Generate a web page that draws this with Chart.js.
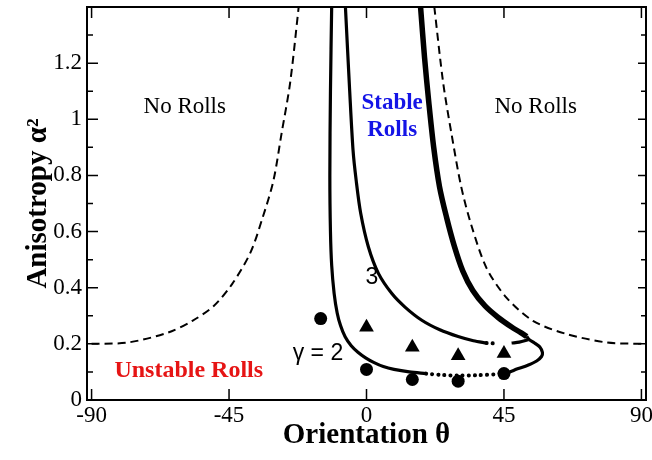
<!DOCTYPE html>
<html>
<head>
<meta charset="utf-8">
<script src="https://cdn.jsdelivr.net/npm/chart.js@4.4.0/dist/chart.umd.min.js"></script>
<style>
  html, body { margin: 0; padding: 0; background: #fff; }
</style>
</head>
<body>
<canvas id="chart" width="652" height="460"></canvas>
<script>
// tick values
const xTicks = [-90, -45, 0, 45, 90];
const yTicks = [0, 0.2, 0.4, 0.6, 0.8, 1, 1.2];
const yMinorTicks = [0.1, 0.3, 0.5, 0.7, 0.9, 1.1, 1.3];

// dashed "no rolls" boundary, left and right branch
const dashLeftTheta = [-90, -78, -65, -57, -50, -44, -38, -34, -30.5, -27.8, -25, -22.2];
const dashLeftAlpha = [0.2, 0.205, 0.24, 0.282, 0.335, 0.413, 0.525, 0.65, 0.78, 0.95, 1.13, 1.4];
const dashRightTheta = [22.2, 25.1, 27.8, 31, 34.4, 39.3, 45.8, 54.5, 65.5, 78.6, 90];
const dashRightAlpha = [1.4, 1.13, 0.95, 0.76, 0.62, 0.47, 0.365, 0.282, 0.235, 0.205, 0.2];

// gamma = 2 curve (solid / dotted / solid)
const g2Theta = [-11.4, -11.8, -12.0, -11.8, -11.4, -10.6, -9.6, -8.5, -7.0, -5.0, -2.8, -0.3, 2.5, 5.5, 9, 14, 19.5];
const g2Alpha = [1.4, 1.1, 0.8, 0.6, 0.48, 0.38, 0.31, 0.265, 0.225, 0.193, 0.17, 0.15, 0.133, 0.119, 0.109, 0.1, 0.094];
const g2DotTheta = [19.5, 25, 30, 36, 43];
const g2DotAlpha = [0.094, 0.089, 0.087, 0.088, 0.092];
const g2EndTheta = [43, 46, 49.2, 53, 55.7, 57.3, 57.6, 56.8, 55, 53.3, 52.5];
const g2EndAlpha = [0.092, 0.097, 0.11, 0.125, 0.139, 0.155, 0.169, 0.188, 0.203, 0.215, 0.226];

// gamma = 3 curve
const g3Theta = [-6.9, -5.5, -4.4, -3.4, -1.9, 0.6, 3.9, 8.3, 12.6, 18.1, 24, 30, 35, 39.3];
const g3Alpha = [1.4, 1.1, 0.889, 0.784, 0.665, 0.546, 0.451, 0.379, 0.331, 0.284, 0.25, 0.226, 0.211, 0.203];
const g3DotTheta = [39.3, 41, 42.6];
const g3DotAlpha = [0.203, 0.202, 0.201];
const g3EndTheta = [47.5, 50, 53];
const g3EndAlpha = [0.203, 0.206, 0.215];

// heavy right branch
const heavyTheta = [17.7, 19.0, 20.4, 22.0, 23.9, 26.2, 28.7, 31.5, 34.8, 38.8, 43.1, 47.5, 50.5, 52.5];
const heavyAlpha = [1.4, 1.22, 1.06, 0.9, 0.76, 0.651, 0.55, 0.46, 0.39, 0.335, 0.294, 0.26, 0.24, 0.226];

// simulation points
const circleTheta = [-15, 0, 15, 30, 45];
const circleAlpha = [0.29, 0.109, 0.073, 0.067, 0.094];
const triTheta = [0, 15, 30, 45];
const triAlpha = [0.259, 0.188, 0.158, 0.166];

// text inside the plot, in data coordinates
const notes = [
  { text: 'No Rolls', x: -59.5, y: 1.045, style: 'plain' },
  { text: 'No Rolls', x: 55.4, y: 1.045, style: 'plain' },
  { text: 'Stable', x: 8.4, y: 1.057, style: 'stable' },
  { text: 'Rolls', x: 8.4, y: 0.96, style: 'stable' },
  { text: 'Unstable Rolls', x: -58.2, y: 0.105, style: 'unstable' },
  { text: '3', x: 1.8, y: 0.437, style: 'gamma' },
  { text: 'γ = 2', x: -15.9, y: 0.166, style: 'gamma' }
];
const noteStyles = {
  plain: { font: '23px "Liberation Serif"', color: '#000' },
  stable: { font: 'bold 23px "Liberation Serif"', color: '#1414e6' },
  unstable: { font: 'bold 24px "Liberation Serif"', color: '#e61414' },
  gamma: { font: '23px "Liberation Sans"', color: '#000' }
};

const pts = (xs, ys) => xs.map((x, i) => ({ x: x, y: ys[i] }));

function curve(xs, ys, width, dash, cap) {
  return {
    data: pts(xs, ys),
    showLine: true,
    borderColor: '#000',
    borderWidth: width,
    borderDash: dash || [],
    borderCapStyle: cap || 'butt',
    pointRadius: 0,
    tension: 0.3
  };
}

const dotted = [0.1, 6];

const frame = {
  id: 'frame',
  afterDraw(chart) {
    const { ctx, chartArea: a, scales: { x, y } } = chart;
    ctx.save();
    ctx.strokeStyle = '#000';
    ctx.lineWidth = 2;
    ctx.strokeRect(a.left, a.top, a.right - a.left, a.bottom - a.top);
    ctx.lineWidth = 1.5;
    ctx.beginPath();
    xTicks.forEach(v => {
      const px = x.getPixelForValue(v);
      ctx.moveTo(px, a.bottom); ctx.lineTo(px, a.bottom - 11);
      ctx.moveTo(px, a.top); ctx.lineTo(px, a.top + 11);
    });
    yTicks.forEach(v => {
      const py = y.getPixelForValue(v);
      ctx.moveTo(a.left, py); ctx.lineTo(a.left + 11, py);
      ctx.moveTo(a.right, py); ctx.lineTo(a.right - 8, py);
    });
    yMinorTicks.forEach(v => {
      const py = y.getPixelForValue(v);
      ctx.moveTo(a.left, py); ctx.lineTo(a.left + 6, py);
      ctx.moveTo(a.right, py); ctx.lineTo(a.right - 5, py);
    });
    ctx.stroke();

    ctx.textAlign = 'center';
    ctx.textBaseline = 'middle';
    notes.forEach(n => {
      const s = noteStyles[n.style];
      ctx.font = s.font;
      ctx.fillStyle = s.color;
      ctx.fillText(n.text, x.getPixelForValue(n.x), y.getPixelForValue(n.y));
    });
    ctx.restore();
  }
};

new Chart(document.getElementById('chart'), {
  type: 'scatter',
  data: {
    datasets: [
      curve(dashLeftTheta, dashLeftAlpha, 2, [8, 5]),
      curve(dashRightTheta, dashRightAlpha, 2, [8, 5]),
      curve(g2Theta, g2Alpha, 3.2),
      curve(g2DotTheta, g2DotAlpha, 4, dotted, 'round'),
      curve(g2EndTheta, g2EndAlpha, 3.2),
      curve(g3Theta, g3Alpha, 3.2),
      curve(g3DotTheta, g3DotAlpha, 4, dotted, 'round'),
      curve(g3EndTheta, g3EndAlpha, 3.2),
      curve(heavyTheta, heavyAlpha, 5.5),
      {
        data: pts(circleTheta, circleAlpha),
        pointStyle: 'circle',
        pointRadius: 6.5,
        backgroundColor: '#000',
        borderColor: '#000',
        borderWidth: 0
      },
      {
        data: pts(triTheta, triAlpha),
        pointStyle: 'triangle',
        pointRadius: 8.5,
        backgroundColor: '#000',
        borderColor: '#000',
        borderWidth: 0
      }
    ]
  },
  options: {
    responsive: false,
    animation: false,
    events: [],
    layout: { autoPadding: false, padding: { top: 7, right: 6, left: 0, bottom: 0 } },
    plugins: { legend: { display: false }, tooltip: { enabled: false } },
    scales: {
      x: {
        type: 'linear',
        min: -91.5,
        max: 91.5,
        grid: { display: false, drawTicks: false },
        border: { display: false },
        afterBuildTicks: s => { s.ticks = xTicks.map(v => ({ value: v })); },
        afterFit: s => { s.height = 60; s.paddingLeft = 0; s.paddingRight = 0; },
        ticks: {
          maxRotation: 0,
          autoSkip: false,
          padding: 2,
          color: '#000',
          font: { family: 'Liberation Serif', size: 23 },
          callback: v => String(v)
        },
        title: {
          display: true,
          text: 'Orientation θ',
          color: '#000',
          padding: { top: 0, bottom: 7 },
          font: { family: 'Liberation Serif', size: 29, weight: 'bold' }
        }
      },
      y: {
        type: 'linear',
        min: 0,
        max: 1.4,
        grid: { display: false, drawTicks: false },
        border: { display: false },
        afterBuildTicks: s => { s.ticks = yTicks.map(v => ({ value: v })); },
        afterFit: s => { s.width = 87; s.paddingTop = 0; s.paddingBottom = 0; },
        ticks: {
          autoSkip: false,
          padding: 5,
          color: '#000',
          font: { family: 'Liberation Serif', size: 23 },
          callback: v => String(v)
        },
        title: {
          display: true,
          text: 'Anisotropy α²',
          color: '#000',
          padding: { top: 21, bottom: 0 },
          font: { family: 'Liberation Serif', size: 29, weight: 'bold' }
        }
      }
    }
  },
  plugins: [frame]
});
</script>
</body>
</html>
